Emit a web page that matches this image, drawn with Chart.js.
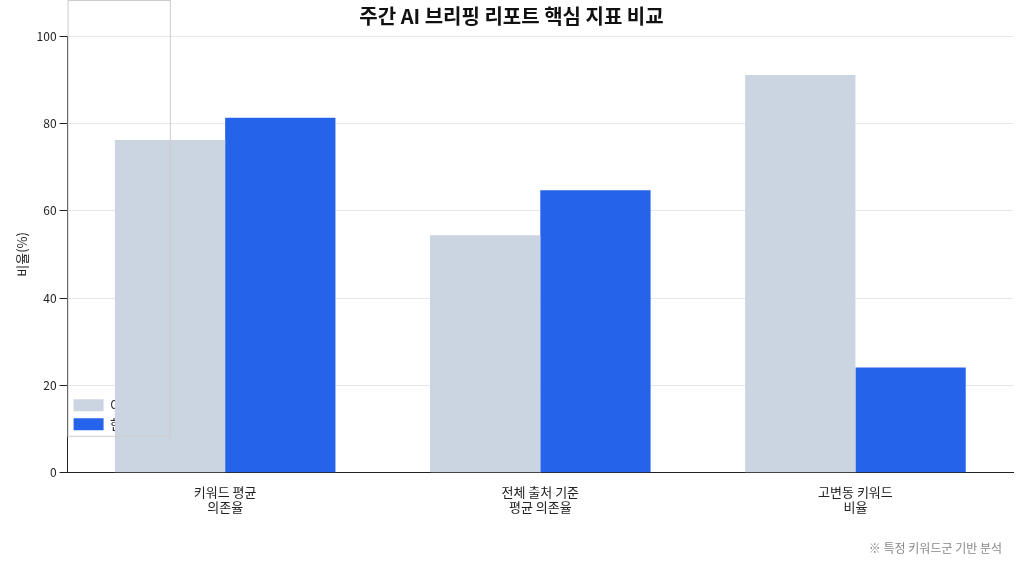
<!DOCTYPE html>
<html><head><meta charset="utf-8">
<script src="https://cdn.jsdelivr.net/npm/chart.js@4"></script>
<style>html,body{margin:0;padding:0;background:#fff}#w{position:relative;width:1024px;height:566px}
#fn{position:absolute;right:22px;top:539px;font:12px "Noto Sans CJK KR";color:#888}</style>
</head><body><div id="w"><canvas id="c" width="1024" height="566"></canvas><div id="fn">※ 특정 키워드군 기반 분석</div></div>
<script>
const categories=[["키워드 평균","의존율"],["전체 출처 기준","평균 의존율"],["고변동 키워드","비율"]];
const prevValues=[76.2,54.4,91.1];
const currValues=[81.3,64.7,24.1];
const yTicks=[0,20,40,60,80,100];
const F='"Noto Sans CJK KR"';
const boxLegend={id:'boxLegend',afterDraw(ch){const l=ch.legend;const ctx=ch.ctx;ctx.save();ctx.strokeStyle='#ccc';ctx.lineWidth=1;ctx.strokeRect(l.left+0.5,l.top+0.5,l.width-1,l.height-1);ctx.restore();}};
new Chart(document.getElementById('c'),{type:'bar',
data:{labels:categories,datasets:[
{label:'이전 기간',data:prevValues,backgroundColor:'#cbd5e1'},
{label:'현재 기간',data:currValues,backgroundColor:'#2563eb'}]},
options:{responsive:false,animation:false,
layout:{padding:{left:10,right:11,top:0,bottom:48}},
datasets:{bar:{barPercentage:1,categoryPercentage:0.7}},
plugins:{title:{display:true,text:'주간 AI 브리핑 리포트 핵심 지표 비교',font:{family:F,size:20,weight:'bold'},color:'#111',padding:{top:4,bottom:8}},
legend:{position:'chartArea',align:'end',labels:{font:{family:F,size:13},color:'#222',boxWidth:30,boxHeight:12,padding:6}},tooltip:{enabled:false}},
scales:{x:{grid:{display:false},border:{color:'#222'},ticks:{color:'#222',font:{family:F,size:13}}},
y:{min:0,max:100,afterBuildTicks:a=>{a.ticks=yTicks.map(v=>({value:v}))},border:{color:'#222'},
grid:{color:'#e5e7eb',borderDash:[4,4],drawTicks:true,tickColor:'#222'},
ticks:{color:'#222',font:{family:F,size:12}},
title:{display:true,text:'비율(%)',font:{family:F,size:13},color:'#222'}}}},
plugins:[boxLegend]});
</script></body></html>
